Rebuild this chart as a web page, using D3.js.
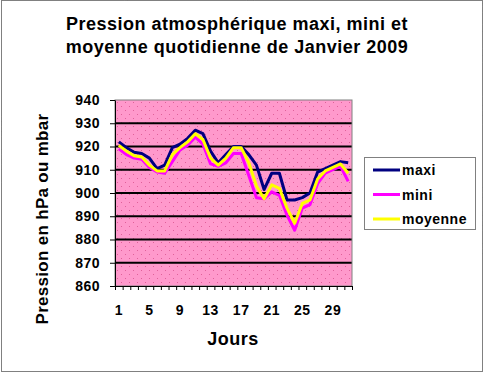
<!DOCTYPE html>
<html>
<head>
<meta charset="utf-8">
<script src="https://cdn.jsdelivr.net/npm/d3@7"></script>
<style>
  body { margin: 0; background: #fff; }
  svg text { font-family: Arial, "Liberation Sans", sans-serif; font-weight: bold; fill: #000; }
</style>
</head>
<body>
<div id="chart"></div>
<script>
// data
var days = d3.range(1, 32);
var maxi = [922, 919.5, 917.5, 917, 915, 910.5, 912, 919.5, 921, 923.5, 927, 925.5, 918, 913, 916.5, 920, 920, 916.5, 912, 901.5, 908.5, 908.5, 897, 897, 898, 900, 909, 910.5, 912, 913.5, 913];
var mini = [919, 916.5, 915, 914.5, 911, 909, 908.5, 913.5, 918.5, 920.5, 924, 921, 912.5, 911.5, 913, 917, 917, 907.5, 898, 897.5, 900.5, 899, 890.5, 884, 893.5, 895, 904, 908.5, 910, 911.5, 905];
var moyenne = [920.5, 918, 916, 915.5, 912, 909.5, 909.5, 916.5, 919.5, 922, 925.5, 923, 915, 912, 915, 919.5, 919.5, 913, 903, 897.5, 903.5, 902, 893.5, 887, 895.5, 897, 906, 909.5, 911, 912.5, 908.5];
var seriesNames = ['maxi', 'mini', 'moyenne'];
var seriesColors = ['#000080', '#ff00ff', '#ffff00'];
var yTicks = [860, 870, 880, 890, 900, 910, 920, 930, 940];
var xLabels = [1, 5, 9, 13, 17, 21, 25, 29];

var width = 484, height = 374;
var plot = { left: 115, top: 100, right: 352, bottom: 286 };

var svg = d3.select('#chart').append('svg')
  .attr('width', width)
  .attr('height', height);

// outer dotted frame
svg.append('rect')
  .attr('x', 1.5).attr('y', 0.5)
  .attr('width', 481).attr('height', 371)
  .attr('fill', 'none')
  .attr('stroke', '#000')
  .attr('stroke-dasharray', '1,1');

// dotted pink background pattern
var defs = svg.append('defs');
var pat = defs.append('pattern')
  .attr('id', 'dots')
  .attr('patternUnits', 'userSpaceOnUse')
  .attr('width', 8).attr('height', 8);
pat.append('rect').attr('width', 8).attr('height', 8).attr('fill', '#ff99cc');
pat.append('rect').attr('x', 1).attr('y', 2).attr('width', 1).attr('height', 1).attr('fill', '#e0609a');
pat.append('rect').attr('x', 5).attr('y', 6).attr('width', 1).attr('height', 1).attr('fill', '#e0609a');

var x = d3.scaleBand()
  .domain(days)
  .range([plot.left, plot.right]);

var xEdges = d3.scaleLinear()
  .domain([0, days.length])
  .range([plot.left, plot.right]);

var y = d3.scaleLinear()
  .domain([860, 940])
  .range([plot.bottom, plot.top]);

svg.append('rect')
  .attr('x', plot.left).attr('y', plot.top)
  .attr('width', plot.right - plot.left)
  .attr('height', plot.bottom - plot.top)
  .attr('fill', 'url(#dots)');

// gridlines
svg.append('g')
  .selectAll('line')
  .data(yTicks.slice(1, -1))
  .enter()
  .append('line')
  .attr('x1', plot.left).attr('x2', plot.right)
  .attr('y1', function(d) { return y(d); })
  .attr('y2', function(d) { return y(d); })
  .attr('stroke', '#000')
  .attr('stroke-width', 2);

// plot border
svg.append('rect')
  .attr('x', plot.left).attr('y', plot.top)
  .attr('width', plot.right - plot.left)
  .attr('height', plot.bottom - plot.top)
  .attr('fill', 'none')
  .attr('stroke', '#808080')
  .attr('stroke-width', 1);

// y axis
var yAxis = svg.append('g')
  .attr('transform', 'translate(' + plot.left + ',0)')
  .call(d3.axisLeft(y).tickValues(yTicks).tickSize(5).tickSizeOuter(0).tickPadding(10));
yAxis.selectAll('text').style('font-size', '14px').style('letter-spacing', '0.5px');

// x axis: ticks on category edges, labels in the middle
var xTicks = svg.append('g')
  .attr('transform', 'translate(0,' + plot.bottom + ')')
  .call(d3.axisBottom(xEdges).tickValues(d3.range(0, days.length + 1)).tickSize(4).tickSizeOuter(0).tickFormat(''));

var xAxis = svg.append('g')
  .attr('transform', 'translate(0,' + plot.bottom + ')')
  .call(d3.axisBottom(x).tickValues(xLabels).tickSize(0).tickPadding(19));
xAxis.select('.domain').remove();
xAxis.selectAll('text').style('font-size', '14px').style('letter-spacing', '0.5px');

svg.selectAll('.domain').attr('stroke', '#000');
svg.selectAll('.tick line').attr('stroke', '#000');

// series lines
var line = d3.line()
  .x(function(d, i) { return x(days[i]) + x.bandwidth() / 2; })
  .y(function(d) { return y(d); });

[maxi, mini, moyenne].forEach(function(s, i) {
  svg.append('path')
    .datum(s)
    .attr('d', line)
    .attr('fill', 'none')
    .attr('stroke', seriesColors[i])
    .attr('stroke-width', 3)
    .attr('stroke-linejoin', 'round');
});

// titles
svg.append('text')
  .attr('x', 237).attr('y', 30)
  .attr('text-anchor', 'middle')
  .style('font-size', '18px')
  .style('letter-spacing', '0.5px')
  .text('Pression atmosphérique maxi, mini et');
svg.append('text')
  .attr('x', 237).attr('y', 53)
  .attr('text-anchor', 'middle')
  .style('font-size', '18px')
  .style('letter-spacing', '0.5px')
  .text('moyenne quotidienne de Janvier 2009');

svg.append('text')
  .attr('x', 233).attr('y', 345)
  .attr('text-anchor', 'middle')
  .style('font-size', '18px')
  .style('letter-spacing', '0.5px')
  .text('Jours');

svg.append('text')
  .attr('transform', 'translate(48,219) rotate(-90)')
  .attr('text-anchor', 'middle')
  .style('font-size', '17px')
  .style('letter-spacing', '0.3px')
  .text('Pression en hPa ou mbar');

// legend
var legend = svg.append('g');
legend.append('rect')
  .attr('x', 364.5).attr('y', 157.5)
  .attr('width', 111).attr('height', 72)
  .attr('fill', '#fff')
  .attr('stroke', '#808080');

var items = legend.selectAll('.item')
  .data(seriesNames)
  .enter()
  .append('g')
  .attr('transform', function(d, i) { return 'translate(0,' + (170 + i * 24.5) + ')'; });
items.append('line')
  .attr('x1', 373).attr('x2', 400)
  .attr('stroke', function(d, i) { return seriesColors[i]; })
  .attr('stroke-width', 3);
items.append('text')
  .attr('x', 402).attr('y', 5)
  .style('font-size', '14px')
  .style('letter-spacing', '0.5px')
  .text(function(d) { return d; });
</script>
</body>
</html>
